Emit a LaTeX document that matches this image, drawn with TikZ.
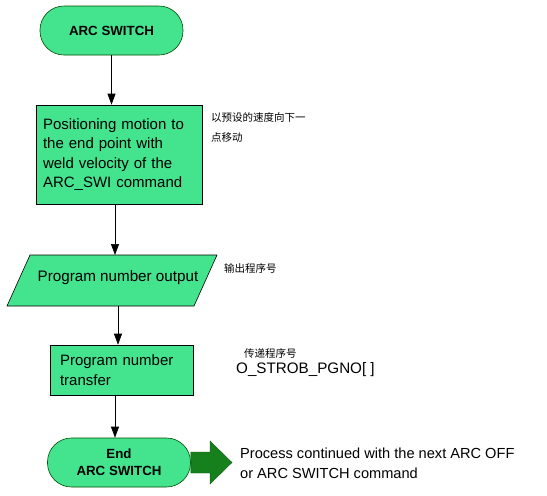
\documentclass[tikz,border=0pt]{standalone}
\usepackage{fontspec}
\setmainfont{Liberation Sans}
\newfontfamily\cjk{Noto Sans CJK SC}
\usetikzlibrary{arrows.meta,shapes.geometric}
\definecolor{boxfill}{HTML}{44E48E}
\definecolor{darkarrow}{HTML}{16801C}
\begin{document}
\begin{tikzpicture}[x=1pt,y=-1pt,
  term/.style={draw=black!70!green, line width=0.6pt, fill=boxfill, rounded corners=24pt, minimum width=143pt, minimum height=49pt, font=\bfseries\fontsize{13.3}{17}\selectfont, align=center, inner sep=0pt},
  procbox/.style={draw=black, line width=0.6pt, fill=boxfill, font=\fontsize{15}{19.5}\selectfont, align=left, inner sep=0pt},
  conn/.style={draw=black, line width=0.7pt, -{Triangle[width=8pt,length=11pt]}},
  note/.style={font=\cjk\fontsize{10.5}{20}\selectfont, anchor=west, inner sep=0pt, align=left},
  plain/.style={font=\fontsize{14.6}{20}\selectfont, anchor=west, inner sep=0pt, align=left}]
\useasboundingbox (0,0) rectangle (547,496);
% start
\node[term] (start) at (111.5,30.5) {ARC SWITCH};
% positioning box
\node[procbox, minimum width=166pt, minimum height=99pt, text width=152pt] (pos) at (119,154.5) {Positioning motion to\\the end point with\\weld velocity of the\\ARC\_SWI command};
\node[note] (n1) at (211,128) {以预设的速度向下一\\点移动};
% parallelogram
\coordinate (pa) at (30,255);
\coordinate (pb) at (217,255);
\coordinate (pc) at (194,306);
\coordinate (pd) at (7,306);
\draw[line width=0.6pt, fill=boxfill] (pa) -- (pb) -- (pc) -- (pd) -- cycle;
\node[font=\fontsize{15.2}{18}\selectfont, inner sep=0pt] (po) at (118,278) {Program number output};
\coordinate (ptop) at (115,255);
\coordinate (pbot) at (118,306);
\node[note, font=\cjk\fontsize{10.5}{12}\selectfont] (n2) at (224,268) {输出程序号};
% transfer box
\node[procbox, minimum width=143pt, minimum height=50pt, text width=123pt] (tr) at (121.5,370) {Program number\\transfer};
\node[note, font=\cjk\fontsize{10.5}{12}\selectfont] (n3) at (244,353) {传递程序号};
\node[plain, font=\fontsize{15.2}{18}\selectfont] (sig) at (236,370) {O\_STROB\_PGNO[ ]};
% end
\node[term] (end) at (119,462.5) {End\\ARC SWITCH};
% big arrow
\fill[darkarrow, draw=darkarrow!70!black, line width=0.4pt] (end.east |- 0,452) -- (210,452) -- (210,441) -- (232,462.5) -- (210,484) -- (210,473) -- (end.east |- 0,473) -- cycle;
\node[plain] (proc) at (240,463) {Process continued with the next ARC OFF\\or ARC SWITCH command};
% connectors
\draw[conn] (start.south) -- (start.south |- pos.north);
\draw[conn] (pos.south -| ptop) -- (ptop);
\draw[conn] (pbot) -- (pbot |- tr.north);
\draw[conn] (tr.south -| 115,0) -- (115,0 |- end.north);
\end{tikzpicture}
\end{document}
